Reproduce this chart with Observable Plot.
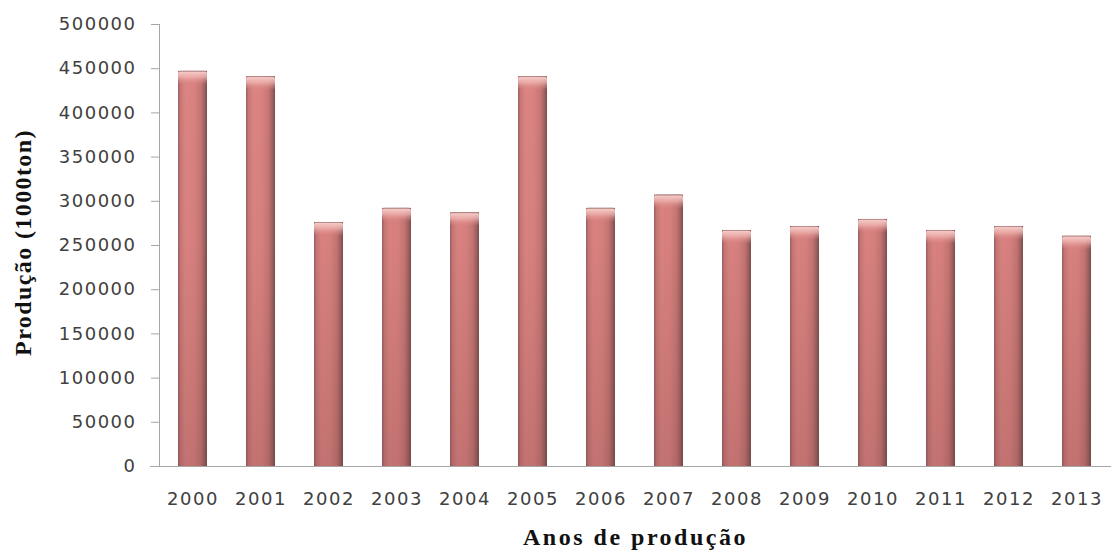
<!DOCTYPE html>
<html>
<head>
<meta charset="utf-8">
<script src="https://cdn.jsdelivr.net/npm/d3@7"></script>
<script src="https://cdn.jsdelivr.net/npm/@observablehq/plot@0.6"></script>
<style>
  body { margin: 0; background: #fff; }
  #chart svg { display: block; }
  #chart svg g[aria-label="y-axis tick label"] text,
  #chart svg g[aria-label="x-axis tick label"] text { letter-spacing: 1.5px; }
</style>
</head>
<body>
<div id="chart"></div>
<script>
// Produção anual (1000 ton), 2000–2013
const years = ["2000", "2001", "2002", "2003", "2004", "2005", "2006", "2007", "2008", "2009", "2010", "2011", "2012", "2013"];
const production = [447000, 441000, 276000, 292000, 287000, 441000, 292000, 307000, 267000, 271500, 279500, 267000, 271500, 260500];
const yTicks = [0, 50000, 100000, 150000, 200000, 250000, 300000, 350000, 400000, 450000, 500000];
const yTitle = "Produção (1000ton)";
const xTitle = "Anos de produção";

const data = years.map((year, i) => ({year, value: production[i]}));

// height of the lighter rounded cap on top of each column, in data units
const capDepth = 16000;

const titleStyle = {fontFamily: "Liberation Serif", fontWeight: "bold", fontSize: 24, fill: "#111", textAnchor: "middle"};

const chart = Plot.plot({
  width: 1111,
  height: 556,
  marginLeft: 159,
  marginRight: 0,
  marginTop: 24,
  marginBottom: 90,
  style: {fontFamily: "DejaVu Sans", fontSize: "18px", color: "#404040", background: "#fff", overflow: "visible"},
  x: {domain: years, range: [156, 1114], paddingInner: 0.57, paddingOuter: 0.29, label: null},
  y: {domain: [0, 500000], label: null},
  marks: [
    Plot.barY(data, {x: "year", y: "value", fill: "url(#barBody)"}),
    Plot.barY(data, {x: "year", y: "value", fill: "url(#barShade)"}),
    Plot.barY(data, {x: "year", y1: d => d.value - capDepth, y2: "value", fill: "url(#barCap)", rx: 3}),
    Plot.axisY({ticks: yTicks, tickSize: 8, tickPadding: 15, tickFormat: d3.format("d"), stroke: "#a6a6a6", label: null}),
    Plot.axisX({tickSize: 0, tickPadding: 26, label: null}),
    Plot.ruleY([0], {stroke: "#a6a6a6", insetLeft: -9}),
    Plot.frame({anchor: "left", stroke: "#a6a6a6"}),
    Plot.text([yTitle], {frameAnchor: "left", dx: -136, dy: -3, rotate: -90, ...titleStyle}),
    Plot.text([xTitle], {frameAnchor: "bottom", dy: 78, ...titleStyle})
  ]
});

// gradients giving the columns their rounded, shaded look
const defs = d3.select(chart).insert("defs", ":first-child");
const body = defs.append("linearGradient").attr("id", "barBody").attr("x1", 0).attr("x2", 1).attr("y1", 0).attr("y2", 0);
[[0, "#96605f"], [0.08, "#c77777"], [0.25, "#dd8583"], [0.55, "#da8381"], [0.78, "#c67775"], [0.92, "#9e6060"], [1, "#7a4d4d"]]
  .forEach(([o, c]) => body.append("stop").attr("offset", o).attr("stop-color", c));
const shade = defs.append("linearGradient").attr("id", "barShade").attr("gradientUnits", "userSpaceOnUse")
  .attr("x1", 0).attr("x2", 0).attr("y1", 24).attr("y2", 466);
shade.append("stop").attr("offset", 0).attr("stop-color", "#5a2a2a").attr("stop-opacity", 0);
shade.append("stop").attr("offset", 0.5).attr("stop-color", "#5a2a2a").attr("stop-opacity", 0.04);
shade.append("stop").attr("offset", 1).attr("stop-color", "#5a2a2a").attr("stop-opacity", 0.2);
const cap = defs.append("linearGradient").attr("id", "barCap").attr("x1", 0).attr("x2", 0).attr("y1", 0).attr("y2", 1);
cap.append("stop").attr("offset", 0).attr("stop-color", "#8f6a6a").attr("stop-opacity", 0.85);
cap.append("stop").attr("offset", 0.1).attr("stop-color", "#f4c8c5").attr("stop-opacity", 1);
cap.append("stop").attr("offset", 0.45).attr("stop-color", "#f0b6b2").attr("stop-opacity", 0.75);
cap.append("stop").attr("offset", 1).attr("stop-color", "#dd8583").attr("stop-opacity", 0);

// letter spacing on the titles
d3.select(chart).selectAll("text").filter(function() { return this.textContent === xTitle; }).style("letter-spacing", "2.5px");
d3.select(chart).selectAll("text").filter(function() { return this.textContent === yTitle; }).style("letter-spacing", "1.4px");

document.getElementById("chart").append(chart);
</script>
</body>
</html>
